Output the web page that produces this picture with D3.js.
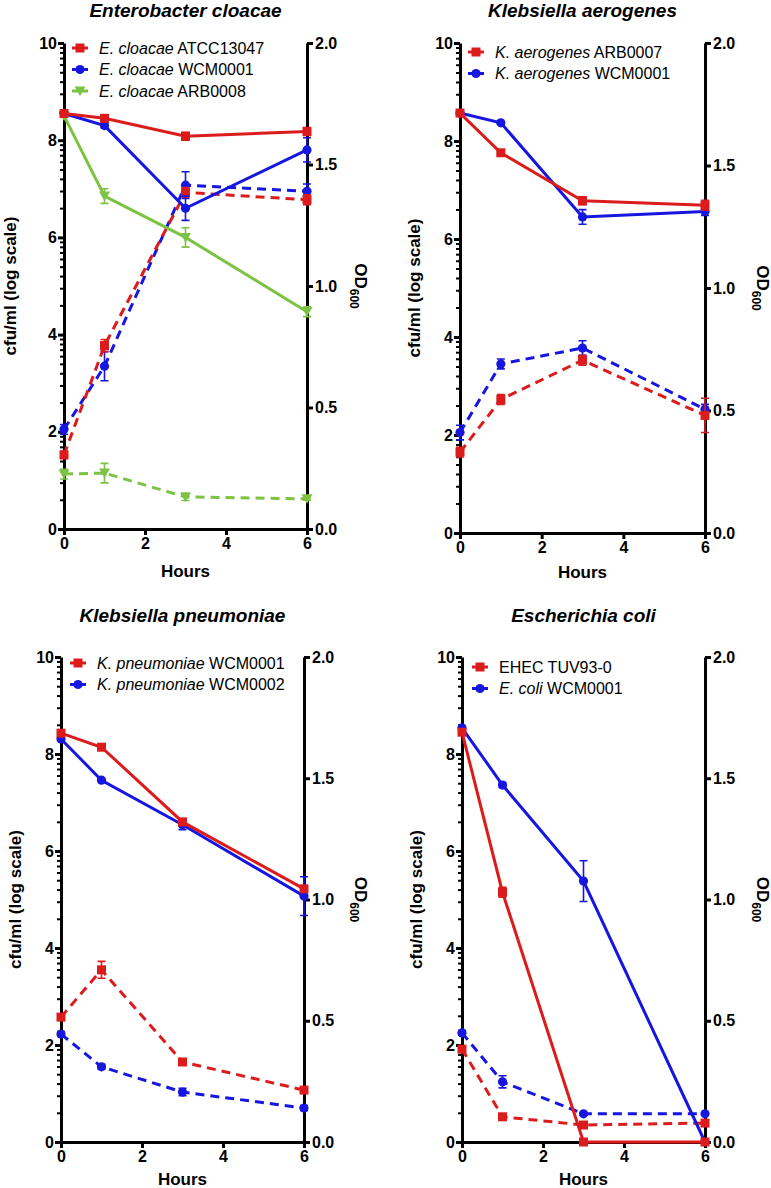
<!DOCTYPE html>
<html><head><meta charset="utf-8">
<script src="https://cdn.jsdelivr.net/npm/d3@7"></script>
<style>body{margin:0;background:#fff} svg{display:block} text{font-family:"Liberation Sans",Arial,Helvetica,sans-serif}</style>
</head><body><svg id="c" width="771" height="1188"></svg>
<script>
// ---------- DATA ----------
const hours = [0, 1, 3, 6];
const cfuTicks = [0, 2, 4, 6, 8, 10];
const odTicks = [0, 0.5, 1.0, 1.5, 2.0];
const hourTicks = [0, 2, 4, 6];
const panelTitles = ["Enterobacter cloacae", "Klebsiella aerogenes", "Klebsiella pneumoniae", "Escherichia coli"];

// Enterobacter cloacae
const eclATCC_cfu = [8.55, 8.45, 8.08, 8.18], eclATCC_cfuErr = [0.03, 0.05, 0.08, 0.08];
const eclWCM_cfu  = [8.55, 8.30, 6.60, 7.80], eclWCM_cfuErr  = [0.03, 0.05, 0.25, 0.25];
const eclARB_cfu  = [8.50, 6.85, 6.00, 4.47], eclARB_cfuErr  = [0.03, 0.15, 0.20, 0.10];
const eclATCC_od = [0.305, 0.755, 1.385, 1.355], eclATCC_odErr = [0.015, 0.025, 0.02, 0.02];
const eclWCM_od  = [0.41, 0.67, 1.415, 1.39],    eclWCM_odErr  = [0.02, 0.06, 0.055, 0.03];
const eclARB_od  = [0.226, 0.23, 0.132, 0.124],  eclARB_odErr  = [0.02, 0.04, 0.015, 0.005];

// Klebsiella aerogenes
const kaeARB_cfu = [8.57, 7.76, 6.78, 6.69], kaeARB_cfuErr = [0.02, 0.03, 0.08, 0.10];
const kaeWCM_cfu = [8.57, 8.37, 6.45, 6.56], kaeWCM_cfuErr = [0.02, 0.02, 0.15, 0.08];
const kaeARB_od = [0.33, 0.545, 0.705, 0.48], kaeARB_odErr = [0.02, 0.02, 0.02, 0.07];
const kaeWCM_od = [0.41, 0.69, 0.755, 0.505], kaeWCM_odErr = [0.03, 0.02, 0.03, 0.02];

// Klebsiella pneumoniae
const kpn1_cfu = [8.43, 8.14, 6.60, 5.22], kpn1_cfuErr = [0.02, 0.02, 0.03, 0.02];
const kpn2_cfu = [8.31, 7.46, 6.54, 5.07], kpn2_cfuErr = [0.02, 0.02, 0.10, 0.40];
const kpn1_od = [0.515, 0.71, 0.33, 0.214], kpn1_odErr = [0.01, 0.035, 0.01, 0.01];
const kpn2_od = [0.445, 0.31, 0.206, 0.14], kpn2_odErr = [0.01, 0.01, 0.015, 0.01];

// Escherichia coli
const ehec_cfu = [8.45, 5.15, 0, 0],    ehec_cfuErr = [0.02, 0.10, 0, 0];
const ecoW_cfu = [8.54, 7.36, 5.38, 0], ecoW_cfuErr = [0.02, 0.05, 0.42, 0];
const ehec_od = [0.383, 0.104, 0.07, 0.078], ehec_odErr = [0.01, 0.01, 0.005, 0.005];
const ecoW_od = [0.45, 0.248, 0.116, 0.116], ecoW_odErr = [0.01, 0.025, 0.005, 0.005];

// ---------- STYLE / LAYOUT ----------
const RED = "#dc1c1c", BLUE = "#1616e0", GREEN = "#7cc243";
const S = (it, rest, color, marker, cfu, cfuErr, od, odErr) => ({it, rest, color, marker, cfu, cfuErr, od, odErr});

const panels = [
  {x0: 64, x1: 307, yT: 43, yB: 529, ylx: 10, odx: 361, titleY: 17, hoursDy: 48, legX: 72, legY: 48,
   series: [
     S("E. cloacae", " ATCC13047", RED, "square", eclATCC_cfu, eclATCC_cfuErr, eclATCC_od, eclATCC_odErr),
     S("E. cloacae", " WCM0001", BLUE, "circle", eclWCM_cfu, eclWCM_cfuErr, eclWCM_od, eclWCM_odErr),
     S("E. cloacae", " ARB0008", GREEN, "tri", eclARB_cfu, eclARB_cfuErr, eclARB_od, eclARB_odErr)]},
  {x0: 460, x1: 705, yT: 43, yB: 533, ylx: 414, odx: 763, titleY: 17, hoursDy: 45, legX: 468, legY: 52,
   series: [
     S("K. aerogenes", " ARB0007", RED, "square", kaeARB_cfu, kaeARB_cfuErr, kaeARB_od, kaeARB_odErr),
     S("K. aerogenes", " WCM0001", BLUE, "circle", kaeWCM_cfu, kaeWCM_cfuErr, kaeWCM_od, kaeWCM_odErr)]},
  {x0: 61, x1: 304, yT: 657, yB: 1142, ylx: 15, odx: 361, titleY: 622, hoursDy: 43, legX: 70, legY: 663,
   series: [
     S("K. pneumoniae", " WCM0001", RED, "square", kpn1_cfu, kpn1_cfuErr, kpn1_od, kpn1_odErr),
     S("K. pneumoniae", " WCM0002", BLUE, "circle", kpn2_cfu, kpn2_cfuErr, kpn2_od, kpn2_odErr)]},
  {x0: 462, x1: 705, yT: 657, yB: 1142, ylx: 416, odx: 763, titleY: 622, hoursDy: 43, legX: 472, legY: 667,
   series: [
     S("", "EHEC TUV93-0", RED, "square", ehec_cfu, ehec_cfuErr, ehec_od, ehec_odErr),
     S("E. coli", " WCM0001", BLUE, "circle", ecoW_cfu, ecoW_cfuErr, ecoW_od, ecoW_odErr)]}
];

const svg = d3.select("#c");

function drawMarker(g, type, cx, cy, color) {
  if (type === "square") g.append("rect").attr("x", cx - 4.5).attr("y", cy - 4.5).attr("width", 9).attr("height", 9).attr("fill", color);
  else if (type === "circle") g.append("circle").attr("cx", cx).attr("cy", cy).attr("r", 4.6).attr("fill", color);
  else g.append("path").attr("d", `M${cx-5.5},${cy-4.5}L${cx+5.5},${cy-4.5}L${cx},${cy+5}Z`).attr("fill", color);
}

panels.forEach((p, pi) => {
  const g = svg.append("g");
  const x = d3.scaleLinear().domain([0, 6]).range([p.x0, p.x1]);
  const yL = d3.scaleLinear().domain([0, 10]).range([p.yB, p.yT]);
  const yR = d3.scaleLinear().domain([0, 2]).range([p.yB, p.yT]);

  // minor ticks (log-like) on left axis
  const minor = [];
  for (let j = 0; j < 10; j += 2) for (let k = 2; k <= 9; k++) minor.push(j + 2 * Math.log10(k));
  const gm = g.append("g").attr("transform", `translate(${p.x0},0)`)
    .call(d3.axisLeft(yL).tickValues(minor).tickSize(4).tickSizeOuter(0).tickFormat(""));
  gm.select(".domain").remove();
  gm.selectAll(".tick line").attr("stroke", "#000").attr("stroke-width", 2);

  const axL = g.append("g").attr("transform", `translate(${p.x0},0)`)
    .call(d3.axisLeft(yL).tickValues(cfuTicks).tickSize(6).tickSizeOuter(0).tickPadding(1).tickFormat(d3.format("d")));
  const axR = g.append("g").attr("transform", `translate(${p.x1},0)`)
    .call(d3.axisRight(yR).tickValues(odTicks).tickSize(6).tickSizeOuter(0).tickPadding(2).tickFormat(d3.format(".1f")));
  const axB = g.append("g").attr("transform", `translate(0,${p.yB})`)
    .call(d3.axisBottom(x).tickValues(hourTicks).tickSize(6).tickSizeOuter(0).tickPadding(3).tickFormat(d3.format("d")));
  [axL, axR, axB].forEach(a => {
    a.select(".domain").attr("stroke", "#000").attr("stroke-width", 3);
    a.selectAll(".tick line").attr("stroke", "#000").attr("stroke-width", 3);
    a.selectAll(".tick text").attr("fill", "#000").style("font-size", "16px").style("font-weight", "bold");
  });

  // title
  g.append("text").attr("x", (p.x0 + p.x1) / 2).attr("y", p.titleY).attr("text-anchor", "middle")
    .style("font-size", "19px").style("font-weight", "bold").style("font-style", "italic").text(panelTitles[pi]);
  // x label
  g.append("text").attr("x", (p.x0 + p.x1) / 2).attr("y", p.yB + p.hoursDy).attr("text-anchor", "middle")
    .style("font-size", "17px").style("font-weight", "bold").text("Hours");
  // y label
  const cy = (p.yT + p.yB) / 2;
  g.append("text").attr("transform", `translate(${p.ylx + 6},${cy}) rotate(-90)`).attr("text-anchor", "middle")
    .style("font-size", "17px").style("font-weight", "bold").text("cfu/ml (log scale)");
  const od = g.append("text").attr("transform", `translate(${p.odx - 6},${cy}) rotate(90)`).attr("text-anchor", "middle")
    .style("font-size", "17px").style("font-weight", "bold");
  od.append("tspan").text("OD");
  od.append("tspan").attr("dy", 5).style("font-size", "12px").text("600");

  const line = d3.line();
  const order = p.series.slice().reverse();
  // dashed OD
  order.forEach(s => {
    const pts = hours.map((h, i) => [x(h), yR(s.od[i])]);
    g.append("path").attr("d", line(pts)).attr("fill", "none").attr("stroke", s.color)
      .attr("stroke-width", 3).attr("stroke-dasharray", "9,6");
    hours.forEach((h, i) => {
      const e = s.odErr[i];
      if (e > 0) {
        const xx = x(h), a = yR(s.od[i] + e), b = yR(s.od[i] - e);
        g.append("path").attr("d", `M${xx},${a}V${b}M${xx-4},${a}H${xx+4}M${xx-4},${b}H${xx+4}`)
          .attr("stroke", s.color).attr("stroke-width", 1.6).attr("fill", "none");
      }
      drawMarker(g, s.marker, x(h), yR(s.od[i]), s.color);
    });
  });
  // solid cfu
  order.forEach(s => {
    const pts = hours.map((h, i) => [x(h), yL(s.cfu[i])]);
    g.append("path").attr("d", line(pts)).attr("fill", "none").attr("stroke", s.color).attr("stroke-width", 3);
    hours.forEach((h, i) => {
      const e = s.cfuErr[i];
      if (e > 0) {
        const xx = x(h), a = yL(s.cfu[i] + e), b = yL(s.cfu[i] - e);
        g.append("path").attr("d", `M${xx},${a}V${b}M${xx-4},${a}H${xx+4}M${xx-4},${b}H${xx+4}`)
          .attr("stroke", s.color).attr("stroke-width", 1.6).attr("fill", "none");
      }
      drawMarker(g, s.marker, x(h), yL(s.cfu[i]), s.color);
    });
  });

  // legend
  p.series.forEach((s, i) => {
    const ly = p.legY + i * 21.5;
    g.append("line").attr("x1", p.legX).attr("x2", p.legX + 16).attr("y1", ly).attr("y2", ly)
      .attr("stroke", s.color).attr("stroke-width", 3);
    drawMarker(g, s.marker, p.legX + 8, ly, s.color);
    const t = g.append("text").attr("x", p.legX + 27).attr("y", ly + 5.5).style("font-size", "16px");
    if (s.it) t.append("tspan").style("font-style", "italic").text(s.it);
    t.append("tspan").text(s.rest);
  });
});
</script></body></html>
